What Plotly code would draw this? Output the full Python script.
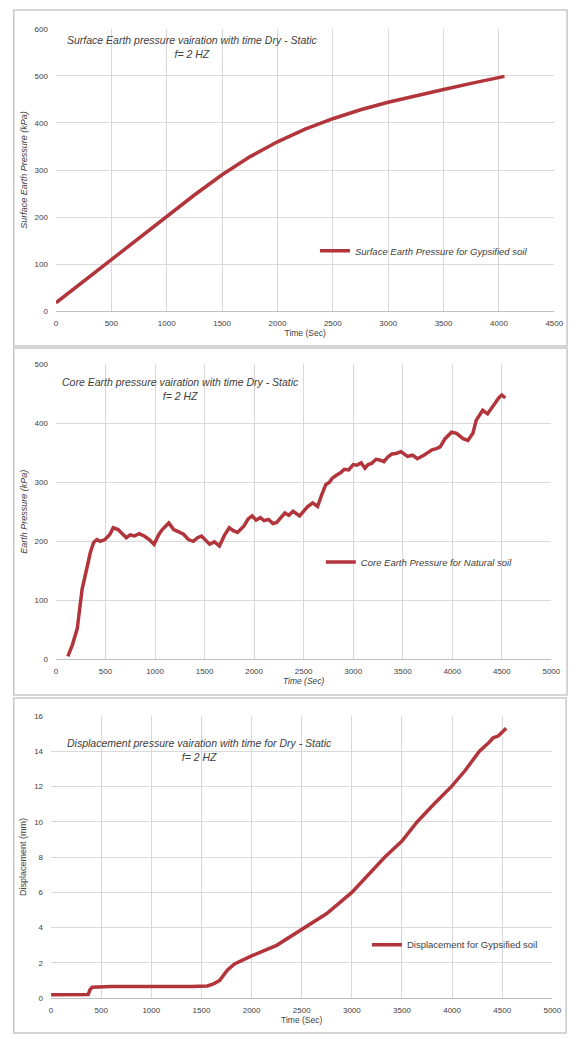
import plotly.graph_objects as go

W, H = 579, 1039

# ---------------- data ----------------
surf_time = [0, 250, 500, 750, 1000, 1250, 1500, 1750, 2000, 2250, 2500, 2750,
             3000, 3250, 3500, 3750, 4000, 4050]
surf_pressure = [18, 64, 110, 156, 202, 247, 290, 328, 360, 387, 409, 428,
                 444, 458, 471, 484, 496, 499]

core_time = [120, 165, 215, 264, 314, 347, 380, 413, 446, 495, 545, 578, 627, 677,
             710, 750, 792, 840, 891, 941, 990, 1040, 1073, 1139, 1188, 1240, 1287,
             1337, 1386, 1430, 1469, 1510, 1551, 1600, 1650, 1700, 1749, 1790, 1832,
             1898, 1940, 1980, 2020, 2063, 2100, 2145, 2190, 2228, 2270, 2310, 2350,
             2393, 2459, 2500, 2541, 2591, 2640, 2680, 2723, 2760, 2789, 2830, 2871,
             2910, 2954, 3000, 3036, 3080, 3119, 3150, 3185, 3230, 3267, 3310, 3350,
             3390, 3432, 3482, 3548, 3600, 3647, 3713, 3760, 3795, 3840, 3878, 3927,
             3993, 4043, 4109, 4158, 4208, 4241, 4307, 4356, 4422, 4472, 4500, 4535]
core_pressure = [5, 24, 52, 119, 156, 181, 198, 203, 200, 203, 212, 223, 220, 212,
                 206, 211, 209, 213, 209, 203, 195, 212, 220, 231, 220, 216, 212,
                 203, 200, 206, 209, 202, 195, 199, 192, 210, 223, 218, 215,
                 226, 238, 243, 236, 240, 235, 237, 230, 232, 241, 248, 244,
                 251, 243, 252, 259, 265, 259, 278, 296, 300, 307, 312, 316,
                 322, 321, 330, 329, 333, 324, 330, 332, 339, 338, 335, 343,
                 348, 349, 352, 344, 346, 340, 346, 351, 355, 357, 360, 374,
                 385, 383, 374, 371, 383, 405, 422, 416, 433, 444, 448, 443]

disp_time = [0, 200, 370, 390, 410, 600, 1000, 1400, 1560, 1620, 1680, 1720, 1760,
             1830, 1920, 2000, 2250, 2520, 2750, 3000, 3170, 3330, 3500, 3653, 3820,
             3995, 4130, 4273, 4370, 4410, 4460, 4500, 4540]
disp_mm = [0.2, 0.2, 0.22, 0.5, 0.63, 0.67, 0.66, 0.67, 0.7, 0.82, 1.0, 1.3, 1.6,
           1.95, 2.2, 2.4, 3.0, 4.0, 4.8, 6.0, 7.0, 8.0, 8.9, 10.0, 11.0,
           12.0, 12.9, 14.0, 14.5, 14.75, 14.85, 15.05, 15.3]

panel_titles = [
    "Surface Earth pressure vairation with time Dry - Static<br>f= 2 HZ",
    "Core Earth pressure vairation with time Dry - Static<br>f= 2 HZ",
    "Displacement pressure vairation with time for Dry - Static<br>f= 2 HZ",
]
series_names = [
    "Surface Earth Pressure for Gypsified soil",
    "Core Earth Pressure for Natural soil",
    "Displacement for Gypsified soil",
]
y_titles = ["Surface Earth Pressure (kPa)", "Earth Pressure (kPa)", "Displacement (mm)"]
x_title = "Time (Sec)"

# ---------------- style ----------------
LINE = "#B2353B"
GRID = "#d9d9d9"
TXT = "#404040"
FONT = "Liberation Sans"


def px(x):
    return x / W


def py(y):
    return 1 - y / H


fig = go.Figure()
fig.add_trace(go.Scatter(x=surf_time, y=surf_pressure, mode="lines", name=series_names[0],
                         line=dict(color=LINE, width=3.5), xaxis="x", yaxis="y", legend="legend"))
fig.add_trace(go.Scatter(x=core_time, y=core_pressure, mode="lines", name=series_names[1],
                         line=dict(color=LINE, width=3.5), xaxis="x2", yaxis="y2", legend="legend2"))
fig.add_trace(go.Scatter(x=disp_time, y=disp_mm, mode="lines", name=series_names[2],
                         line=dict(color=LINE, width=3.5), xaxis="x3", yaxis="y3", legend="legend3"))

tickfont = dict(family=FONT, size=8, color=TXT)


def xa(domain, rng, anchor, italic_title=False):
    return dict(domain=domain, range=rng, anchor=anchor, dtick=500, tick0=0,
                showgrid=True, gridcolor=GRID, gridwidth=1, zeroline=False,
                showline=True, linecolor="#bfbfbf", linewidth=1,
                ticks="", tickfont=tickfont, ticklabelstandoff=4,
                title=dict(text=x_title, standoff=3,
                           font=dict(family=FONT, size=8.5, color=TXT,
                                     style="italic" if italic_title else "normal")),
                fixedrange=True)


def ya(domain, rng, dtick, anchor, title, italic_title=False):
    return dict(domain=domain, range=rng, anchor=anchor, dtick=dtick, tick0=0,
                showgrid=True, gridcolor=GRID, gridwidth=1, zeroline=False,
                showline=False, ticks="", tickfont=tickfont, ticklabelstandoff=7,
                title=dict(text=title, standoff=5,
                           font=dict(family=FONT, size=9, color=TXT,
                                     style="italic" if italic_title else "normal")),
                fixedrange=True)


# plot areas in pixels
p1 = dict(l=55, r=563, t=25, b=310)
p2 = dict(l=55, r=560, t=363.5, b=661)
p3 = dict(l=50, r=561, t=718, b=1003)

legfont = dict(family=FONT, size=9.5, color=TXT, style="italic")

fig.update_layout(
    width=W, height=H,
    margin=dict(l=0, r=0, t=0, b=0),
    paper_bgcolor="white", plot_bgcolor="white",
    font=dict(family=FONT, color=TXT),
    xaxis=xa([px(p1["l"]), px(p1["r"])], [0, 4500], "y"),
    yaxis=ya([py(p1["b"]), py(p1["t"])], [0, 600], 100, "x", y_titles[0], True),
    xaxis2=xa([px(p2["l"]), px(p2["r"])], [0, 5000], "y2", True),
    yaxis2=ya([py(p2["b"]), py(p2["t"])], [0, 500], 100, "x2", y_titles[1], True),
    xaxis3=xa([px(p3["l"]), px(p3["r"])], [0, 5000], "y3"),
    yaxis3=ya([py(p3["b"]), py(p3["t"])], [0, 16], 2, "x3", y_titles[2]),
    legend=dict(x=px(319), y=py(249), xanchor="left", yanchor="middle",
                bgcolor="rgba(0,0,0,0)", font=legfont),
    legend2=dict(x=px(325), y=py(563), xanchor="left", yanchor="middle",
                 bgcolor="rgba(0,0,0,0)", font=legfont),
    legend3=dict(x=px(372), y=py(949), xanchor="left", yanchor="middle",
                 bgcolor="rgba(0,0,0,0)", font=dict(family=FONT, size=9.5, color=TXT)),
    showlegend=True,
)

# chart titles inside each plot area
title_pos = [(194, 43), (182, 388), (201, 753)]
for txt, (tx, ty) in zip(panel_titles, title_pos):
    fig.add_annotation(text=txt, x=px(tx), y=py(ty), xref="paper", yref="paper",
                       showarrow=False, align="center", xanchor="center", yanchor="middle",
                       font=dict(family=FONT, size=10.5, color=TXT, style="italic"))

# panel borders (chart-area frames)
for (x0, y0, x1, y1) in [(12, 6, 576, 345), (12, 347, 576, 697), (12, 700, 575, 1038)]:
    fig.add_shape(type="rect", xref="paper", yref="paper",
                  x0=px(x0), x1=px(x1), y0=py(y1), y1=py(y0),
                  line=dict(color="#c8c8c8", width=1.5), fillcolor="rgba(0,0,0,0)", layer="below")

fig.write_html("out.html", config={"displayModeBar": False},
               post_script="document.body.style.margin='0';")
